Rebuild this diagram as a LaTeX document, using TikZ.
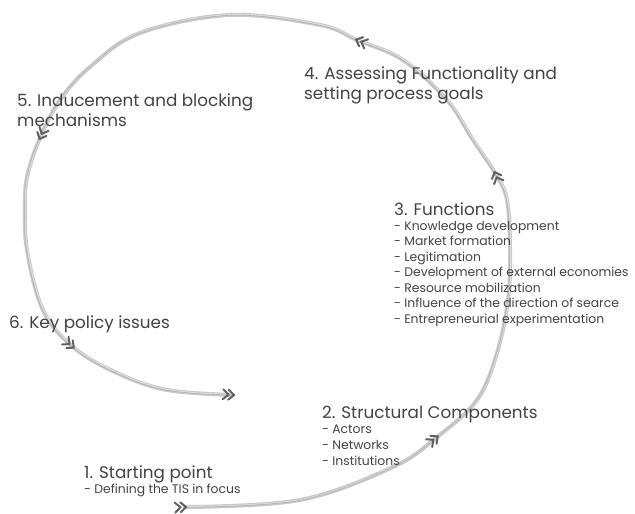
\documentclass[tikz,border=0pt]{standalone}
\usepackage{fontspec}
\setmainfont{Poppins}
\begin{document}
\begin{tikzpicture}[x=1pt,y=-1pt,
  % multi-line nodes are placed by the baseline of their last line
  head/.style={font=\fontsize{16.8}{20}\selectfont, text=black!74, anchor=base west, inner sep=0, align=left},
  item/.style={font=\fontsize{12.4}{15.5}\selectfont, text=black!74, anchor=base west, inner sep=0, align=left},
  brush/.style={line width=4pt, draw=black!21, line cap=round, line join=round},
  brushhi/.style={line width=0.9pt, draw=black!12, line cap=round},
  brushlo/.style={line width=0.6pt, draw=black!30, line cap=round},
  chevline/.style={line width=2pt, draw=black!62, line cap=round, line join=round},
  chev/.pic={\draw[chevline] (-10,-5) -- (-4.5,0) -- (-10,5)
                              (-4.5,-5) -- (1,0) -- (-4.5,5);}
]
\useasboundingbox (0,0) rectangle (635,514);

% the spiral path of the analysis cycle
\def\spiral{(185,507) (300,500) (393,467) (437,437) (477,400) (497,353)
  (508,300) (510,250) (507,200) (495,173) (473,140) (447,100) (403,60)
  (357,40) (320,25) (230,15) (140,33) (90,67) (60,100) (40,138) (28,173)
  (25,200) (27,250) (43,310) (73,347) (117,373) (167,390) (233,395)}
\coordinate (start) at (185,507);
\coordinate (finish) at (233,395);
\draw[brush] plot[smooth, tension=0.6] coordinates {\spiral};
\draw[brushhi, xshift=0.5pt, yshift=0.4pt] plot[smooth, tension=0.6] coordinates {\spiral};
\draw[brushlo, xshift=-0.4pt, yshift=-0.3pt] plot[smooth, tension=0.6] coordinates {\spiral};

% direction marks along the path
\pic[rotate=3.5] at (start) {chev};
\pic[rotate=38] at (437,437) {chev};
\pic[rotate=112] at (495,173) {chev};
\pic[rotate=157] at (357,40) {chev};
\pic[rotate=246] at (40,138) {chev};
\pic[rotate=-40] at (73,347) {chev};
\pic[rotate=-4] at (finish) {chev};

% stage labels
\node[head] (s1) at (84,478) {1. Starting point};
\node[item] (s1l) at (84,493) {- Defining the TIS in focus};

\node[head] (s2) at (322,418) {2. Structural Components};
\node[item, font=\fontsize{12.4}{16}\selectfont] (s2l) at (322,465) {- Actors\\- Networks\\- Institutions};

\node[head] (s3) at (394,215) {3. Functions};
\node[item] (s3l) at (394,323) {- Knowledge development\\- Market formation\\- Legitimation\\- Development of external economies\\- Resource mobilization\\- Influence of the direction of searce\\- Entrepreneurial experimentation};

\node[head] (s4) at (304,99) {4. Assessing Functionality and\\setting process goals};

\node[head] (s5) at (17,126) {5. Inducement and blocking\\mechanisms};

\node[head] (s6) at (9,328) {6. Key policy issues};
\end{tikzpicture}
\end{document}
